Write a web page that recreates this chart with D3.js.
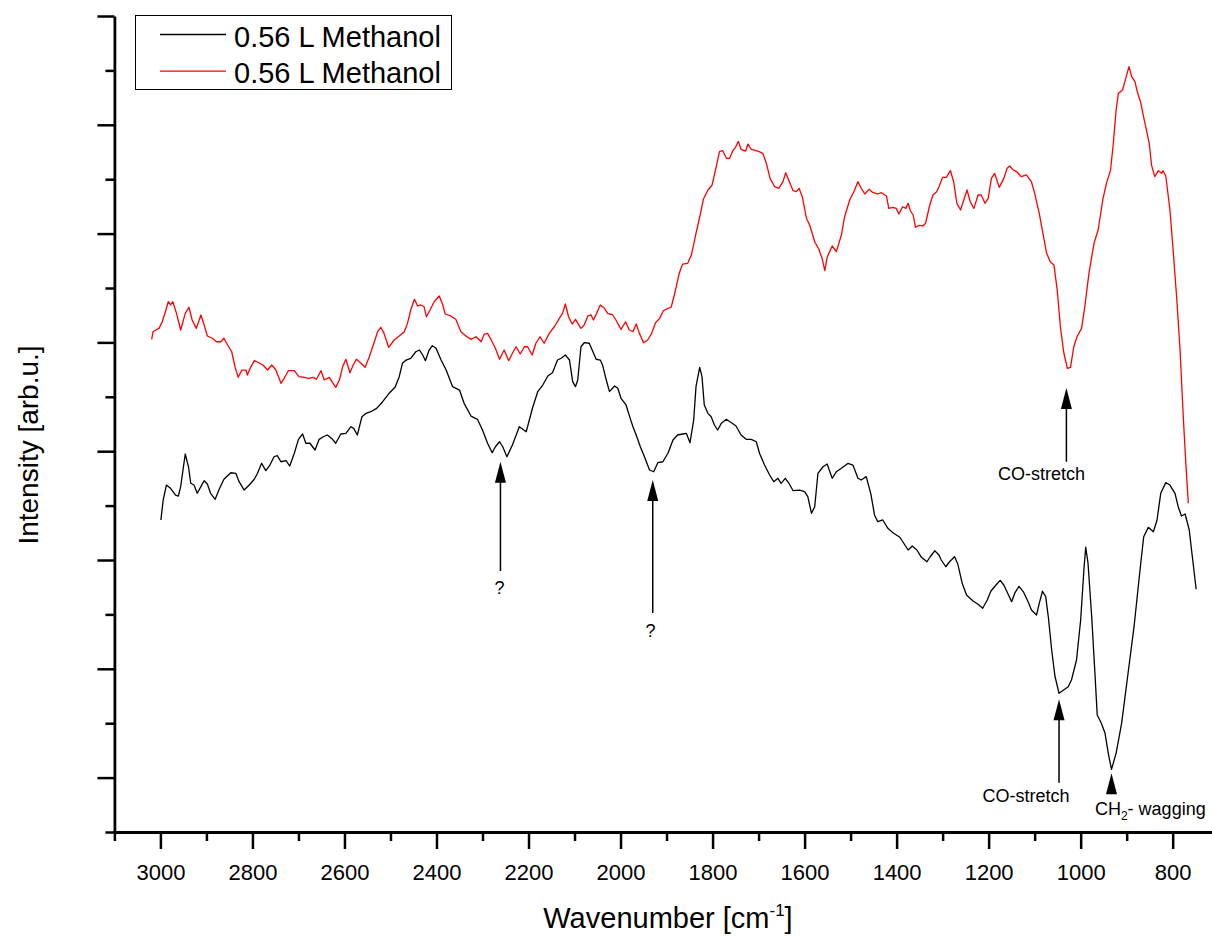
<!DOCTYPE html>
<html>
<head>
<meta charset="utf-8">
<script src="https://cdn.jsdelivr.net/npm/d3@7"></script>
<style>
  html, body { margin: 0; padding: 0; background: #fff; }
  svg { display: block; font-family: "Liberation Sans", Arial, Helvetica, sans-serif; }
</style>
</head>
<body>
<svg id="chart" width="1212" height="938"></svg>
<script>
// Axis ticks (wavenumber in cm^-1, intensity in arbitrary units)
const xTickValues = [3000, 2800, 2600, 2400, 2200, 2000, 1800, 1600, 1400, 1200, 1000, 800];
const xMinorTickValues = [3100, 2900, 2700, 2500, 2300, 2100, 1900, 1700, 1500, 1300, 1100, 900];
const yMajorTickValues = [0, 1, 2, 3, 4, 5, 6, 7];
const yMinorTickValues = [-0.5, 0.5, 1.5, 2.5, 3.5, 4.5, 5.5, 6.5];

const seriesNames = ["0.56 L Methanol", "0.56 L Methanol"];
const seriesColors = ["#000000", "#ff0000"];

// Spectrum 1 (black): [wavenumber, intensity]
const blackSpectrum = [
  [2999,2.368],[2994,2.551],[2987,2.689],[2978,2.659],[2967,2.597],[2961,2.588],[2956,2.674],[2946,2.974],
  [2939,2.857],[2934,2.705],[2927,2.689],[2920,2.613],[2912,2.674],[2905,2.729],[2898,2.698],[2891,2.613],
  [2881,2.558],[2873,2.643],[2862,2.742],[2847,2.802],[2836,2.797],[2829,2.720],[2818,2.643],[2807,2.689],
  [2796,2.742],[2789,2.797],[2780,2.889],[2771,2.821],[2762,2.873],[2753,2.949],[2746,2.959],[2738,2.903],
  [2727,2.913],[2719,2.864],[2709,2.981],[2700,3.109],[2691,3.158],[2684,3.073],[2675,3.073],[2664,3.011],
  [2655,3.109],[2646,3.133],[2637,3.149],[2626,3.109],[2619,3.073],[2608,3.158],[2597,3.164],[2586,3.225],
  [2580,3.210],[2572,3.149],[2562,3.317],[2553,3.348],[2543,3.363],[2530,3.394],[2517,3.455],[2503,3.532],
  [2490,3.587],[2481,3.685],[2474,3.808],[2466,3.838],[2456,3.854],[2445,3.914],[2437,3.930],[2430,3.884],
  [2424,3.832],[2416,3.930],[2409,3.970],[2401,3.946],[2390,3.838],[2379,3.746],[2365,3.593],[2350,3.562],
  [2340,3.440],[2325,3.323],[2311,3.293],[2300,3.195],[2289,3.073],[2279,2.986],[2272,3.041],[2263,3.087],
  [2256,3.041],[2247,2.949],[2235,3.057],[2220,3.225],[2205,3.179],[2191,3.402],[2180,3.547],[2169,3.608],
  [2158,3.691],[2148,3.721],[2137,3.838],[2129,3.854],[2120,3.884],[2111,3.838],[2104,3.639],[2098,3.593],
  [2093,3.654],[2086,3.960],[2079,3.997],[2068,3.992],[2060,3.914],[2053,3.845],[2044,3.838],[2039,3.792],
  [2031,3.654],[2024,3.547],[2013,3.599],[2006,3.578],[1999,3.486],[1988,3.425],[1979,3.302],[1973,3.225],
  [1966,3.149],[1957,3.041],[1948,2.949],[1937,2.827],[1928,2.811],[1919,2.894],[1908,2.903],[1897,2.981],
  [1886,3.103],[1876,3.149],[1865,3.158],[1857,3.164],[1849,3.078],[1841,3.287],[1836,3.593],[1828,3.771],
  [1823,3.685],[1818,3.425],[1810,3.348],[1803,3.317],[1796,3.241],[1789,3.195],[1781,3.256],[1770,3.293],
  [1759,3.262],[1749,3.232],[1738,3.149],[1727,3.109],[1716,3.109],[1705,3.087],[1698,2.981],[1687,2.873],
  [1676,2.781],[1667,2.720],[1658,2.751],[1651,2.705],[1642,2.751],[1634,2.705],[1625,2.637],[1611,2.643],
  [1600,2.628],[1593,2.582],[1585,2.429],[1578,2.490],[1571,2.797],[1560,2.857],[1551,2.882],[1540,2.751],
  [1531,2.811],[1520,2.843],[1506,2.887],[1495,2.873],[1484,2.751],[1477,2.735],[1466,2.766],[1456,2.607],
  [1448,2.414],[1441,2.352],[1430,2.368],[1419,2.291],[1408,2.251],[1393,2.209],[1382,2.138],[1375,2.092],
  [1366,2.129],[1356,2.092],[1346,2.025],[1334,1.984],[1327,2.030],[1317,2.085],[1308,2.046],[1303,2.000],
  [1293,1.938],[1285,1.984],[1274,2.030],[1267,1.963],[1257,1.779],[1248,1.678],[1234,1.623],[1223,1.593],
  [1213,1.556],[1203,1.632],[1195,1.715],[1184,1.770],[1175,1.813],[1167,1.770],[1150,1.617],[1143,1.697],
  [1134,1.758],[1124,1.704],[1113,1.605],[1107,1.540],[1096,1.494],[1090,1.602],[1083,1.713],[1076,1.663],
  [1070,1.467],[1063,1.173],[1056,0.934],[1047,0.775],[1037,0.805],[1027,0.835],[1020,0.897],[1009,1.081],
  [1000,1.449],[993,1.908],[989,2.117],[984,1.970],[976,1.479],[969,0.959],[964,0.575],[955,0.499],
  [947,0.407],[940,0.223],[933,0.076],[923,0.223],[911,0.499],[897,0.959],[884,1.387],[871,1.908],
  [863,2.214],[853,2.300],[842,2.260],[834,2.368],[826,2.613],[815,2.711],[806,2.689],[795,2.613],
  [788,2.490],[781,2.404],[773,2.423],[764,2.276],[759,2.092],[749,1.731]
];

// Spectrum 2 (red): [wavenumber, intensity]
const redSpectrum = [
  [3019,4.028],[3016,4.098],[3010,4.114],[3003,4.129],[2996,4.190],[2988,4.298],[2983,4.374],[2978,4.344],
  [2973,4.374],[2965,4.267],[2956,4.114],[2946,4.267],[2938,4.323],[2931,4.206],[2922,4.129],[2912,4.252],
  [2905,4.160],[2898,4.059],[2887,4.038],[2878,4.006],[2869,4.006],[2862,4.038],[2854,3.976],[2845,3.914],
  [2838,3.777],[2831,3.679],[2823,3.746],[2814,3.746],[2811,3.700],[2804,3.771],[2796,3.832],[2786,3.813],
  [2777,3.792],[2767,3.746],[2758,3.792],[2749,3.746],[2738,3.624],[2731,3.670],[2722,3.740],[2709,3.740],
  [2699,3.685],[2688,3.679],[2677,3.670],[2668,3.679],[2661,3.661],[2651,3.740],[2644,3.654],[2633,3.679],
  [2619,3.587],[2611,3.654],[2604,3.777],[2597,3.845],[2588,3.721],[2581,3.792],[2574,3.845],[2564,3.808],
  [2555,3.771],[2546,3.868],[2535,4.006],[2528,4.098],[2521,4.139],[2514,4.083],[2504,3.955],[2492,4.022],
  [2481,4.059],[2470,4.098],[2463,4.175],[2456,4.298],[2448,4.396],[2441,4.335],[2434,4.344],[2427,4.328],
  [2422,4.236],[2414,4.298],[2405,4.374],[2394,4.426],[2387,4.353],[2381,4.261],[2369,4.243],[2358,4.212],
  [2347,4.098],[2336,4.059],[2325,4.028],[2314,4.052],[2303,4.006],[2296,4.077],[2289,4.083],[2281,4.022],
  [2272,3.946],[2263,3.845],[2253,3.930],[2243,3.832],[2235,3.900],[2227,3.960],[2218,3.893],[2209,3.960],
  [2202,3.960],[2192,3.884],[2184,3.992],[2175,4.052],[2166,3.992],[2155,4.083],[2144,4.144],[2133,4.221],
  [2126,4.267],[2120,4.353],[2113,4.236],[2105,4.169],[2098,4.212],[2086,4.129],[2079,4.160],[2071,4.243],
  [2064,4.252],[2059,4.206],[2052,4.267],[2044,4.344],[2035,4.313],[2028,4.267],[2017,4.252],[2010,4.206],
  [1999,4.120],[1989,4.190],[1981,4.114],[1973,4.098],[1966,4.169],[1959,4.083],[1950,3.997],[1941,4.022],
  [1933,4.077],[1924,4.181],[1915,4.221],[1907,4.291],[1897,4.313],[1890,4.323],[1883,4.436],[1878,4.528],
  [1872,4.641],[1865,4.720],[1854,4.727],[1846,4.803],[1836,5.003],[1827,5.171],[1820,5.315],[1810,5.401],
  [1801,5.447],[1792,5.615],[1785,5.753],[1778,5.762],[1770,5.692],[1763,5.692],[1756,5.762],[1750,5.793],
  [1744,5.848],[1738,5.775],[1728,5.759],[1723,5.823],[1716,5.775],[1709,5.768],[1699,5.753],[1691,5.738],
  [1683,5.646],[1675,5.508],[1665,5.431],[1656,5.416],[1647,5.477],[1641,5.560],[1633,5.477],[1625,5.394],
  [1618,5.385],[1612,5.416],[1605,5.339],[1596,5.141],[1589,5.079],[1578,4.925],[1569,4.856],[1562,4.773],
  [1556,4.659],[1551,4.782],[1540,4.886],[1531,4.834],[1520,4.987],[1513,5.155],[1502,5.309],[1493,5.385],
  [1484,5.477],[1477,5.416],[1469,5.364],[1460,5.407],[1451,5.376],[1441,5.364],[1433,5.376],[1422,5.345],
  [1417,5.232],[1408,5.242],[1401,5.232],[1395,5.180],[1387,5.247],[1380,5.232],[1375,5.278],[1370,5.210],
  [1364,5.171],[1359,5.058],[1351,5.076],[1343,5.070],[1337,5.095],[1328,5.263],[1321,5.355],[1313,5.385],
  [1308,5.431],[1300,5.517],[1292,5.516],[1283,5.578],[1276,5.477],[1269,5.278],[1261,5.217],[1254,5.309],
  [1247,5.401],[1240,5.293],[1232,5.232],[1223,5.355],[1216,5.355],[1208,5.278],[1201,5.324],[1194,5.508],
  [1187,5.554],[1177,5.425],[1167,5.508],[1160,5.600],[1154,5.621],[1147,5.585],[1139,5.569],[1129,5.523],
  [1118,5.539],[1107,5.477],[1100,5.370],[1090,5.186],[1082,5.003],[1074,4.819],[1066,4.742],[1058,4.711],
  [1051,4.482],[1044,4.144],[1037,3.914],[1029,3.762],[1022,3.771],[1015,3.960],[1008,4.052],[998,4.129],
  [991,4.328],[982,4.635],[971,4.911],[962,5.033],[952,5.309],[944,5.462],[935,5.585],[929,5.830],
  [923,6.136],[918,6.289],[909,6.320],[902,6.427],[895,6.534],[889,6.442],[882,6.396],[877,6.304],
  [870,6.212],[864,6.090],[857,5.952],[851,5.830],[846,5.630],[839,5.523],[831,5.578],[824,5.554],
  [821,5.578],[815,5.529],[806,5.217],[799,4.849],[791,4.390],[784,3.930],[777,3.317],[771,2.857],
  [766,2.521]
];

// Band assignments: arrow at wavenumber `wn` pointing up to `tip`, shaft down to `tail`
const annotations = [
  { text: "?",          wn: 2261, tip: 2.903, tail: 1.899, labelWn: 2263, labelY: 1.687, anchor: "middle" },
  { text: "?",          wn: 1930, tip: 2.735, tail: 1.513, labelWn: 1935, labelY: 1.292, anchor: "middle" },
  { text: "CO-stretch", wn: 1031, tip: 3.582, tail: 2.903, labelWn: 1085, labelY: 2.735, anchor: "middle" },
  { text: "CO-stretch", wn: 1047, tip: 0.720, tail: -0.047, labelWn: 1119, labelY: -0.222, anchor: "middle" },
  { text: "CH2",        wn: 933,  tip: 0.040, tail: null,  labelWn: 969,  labelY: -0.344, anchor: "start" }
];

const svg = d3.select("#chart");
svg.append("rect").attr("width", 1212).attr("height", 938).attr("fill", "#fff");

const x = d3.scaleLinear().domain([3100, 700]).range([114.4, 1218.7]);
const y = d3.scaleLinear().domain([-0.5, 7]).range([832, 16]);

// Spectra
const line = d3.line().x(d => x(d[0])).y(d => y(d[1]));
[blackSpectrum, redSpectrum].forEach((data, i) => {
  svg.append("path")
    .datum(data)
    .attr("d", line)
    .attr("fill", "none")
    .attr("stroke", seriesColors[i])
    .attr("stroke-width", 1.3)
    .attr("stroke-linejoin", "round");
});

// X axis
const xAxisG = svg.append("g").attr("transform", `translate(0,${y(-0.5)})`);
xAxisG.append("g")
  .call(d3.axisBottom(x).tickValues(xMinorTickValues).tickSize(9).tickSizeOuter(0).tickFormat(""))
  .call(g => g.select(".domain").remove());
xAxisG.append("g")
  .call(d3.axisBottom(x).tickValues(xTickValues).tickSize(17).tickSizeOuter(0).tickPadding(15).tickFormat(d3.format("d")))
  .call(g => g.selectAll("text").attr("font-size", 22).attr("font-family", "Liberation Sans, Arial, sans-serif").attr("fill", "#000"));
xAxisG.selectAll("line").attr("stroke", "#000").attr("stroke-width", 2.5);
xAxisG.selectAll(".domain").attr("stroke", "#000").attr("stroke-width", 2.8);

// Y axis (unlabelled)
const yAxisG = svg.append("g").attr("transform", `translate(${x(3100)},0)`);
yAxisG.append("g")
  .call(d3.axisLeft(y).tickValues(yMinorTickValues).tickSize(9).tickSizeOuter(0).tickFormat(""))
  .call(g => g.select(".domain").remove());
yAxisG.append("g")
  .call(d3.axisLeft(y).tickValues(yMajorTickValues).tickSize(17).tickSizeOuter(0).tickFormat(""));
yAxisG.selectAll("line").attr("stroke", "#000").attr("stroke-width", 2.5);
yAxisG.selectAll(".domain").attr("stroke", "#000").attr("stroke-width", 2.8);

// Axis titles
const xTitle = svg.append("text")
  .attr("x", 668).attr("y", 928)
  .attr("text-anchor", "middle")
  .attr("font-size", 29).attr("fill", "#000");
xTitle.append("tspan").text("Wavenumber [cm");
xTitle.append("tspan").attr("font-size", 17).attr("dy", -12).text("-1");
xTitle.append("tspan").attr("dy", 12).text("]");

svg.append("text")
  .attr("transform", "translate(38,445) rotate(-90)")
  .attr("text-anchor", "middle")
  .attr("font-size", 28).attr("fill", "#000")
  .text("Intensity [arb.u.]");

// Annotations
const ann = svg.append("g");
annotations.forEach(a => {
  const ax = x(a.wn), ty = y(a.tip);
  ann.append("path")
    .attr("d", `M${ax},${ty} L${ax - 5.5},${ty + 21} L${ax + 5.5},${ty + 21} Z`)
    .attr("fill", "#000");
  if (a.tail !== null) {
    ann.append("line")
      .attr("x1", ax).attr("x2", ax)
      .attr("y1", ty + 20).attr("y2", y(a.tail))
      .attr("stroke", "#000").attr("stroke-width", 1.5);
  }
  const t = ann.append("text")
    .attr("x", x(a.labelWn)).attr("y", y(a.labelY))
    .attr("text-anchor", a.anchor)
    .attr("font-size", 18).attr("fill", "#000");
  if (a.text === "CH2") {
    t.append("tspan").text("CH");
    t.append("tspan").attr("font-size", 12).attr("dy", 5).text("2");
    t.append("tspan").attr("dy", -5).text("- wagging");
  } else {
    t.text(a.text);
  }
});

// Legend
const legend = svg.append("g");
legend.append("rect")
  .attr("x", 135.5).attr("y", 15.5).attr("width", 316).attr("height", 74)
  .attr("fill", "#fff").attr("stroke", "#000").attr("stroke-width", 1);
seriesNames.forEach((name, i) => {
  const cy = 34.5 + i * 36.7;
  legend.append("line")
    .attr("x1", 160).attr("x2", 226).attr("y1", cy).attr("y2", cy)
    .attr("stroke", seriesColors[i]).attr("stroke-width", 1.3);
  legend.append("text")
    .attr("x", 234).attr("y", cy + 12)
    .attr("font-size", 29).attr("fill", "#000")
    .text(name);
});
</script>
</body>
</html>
